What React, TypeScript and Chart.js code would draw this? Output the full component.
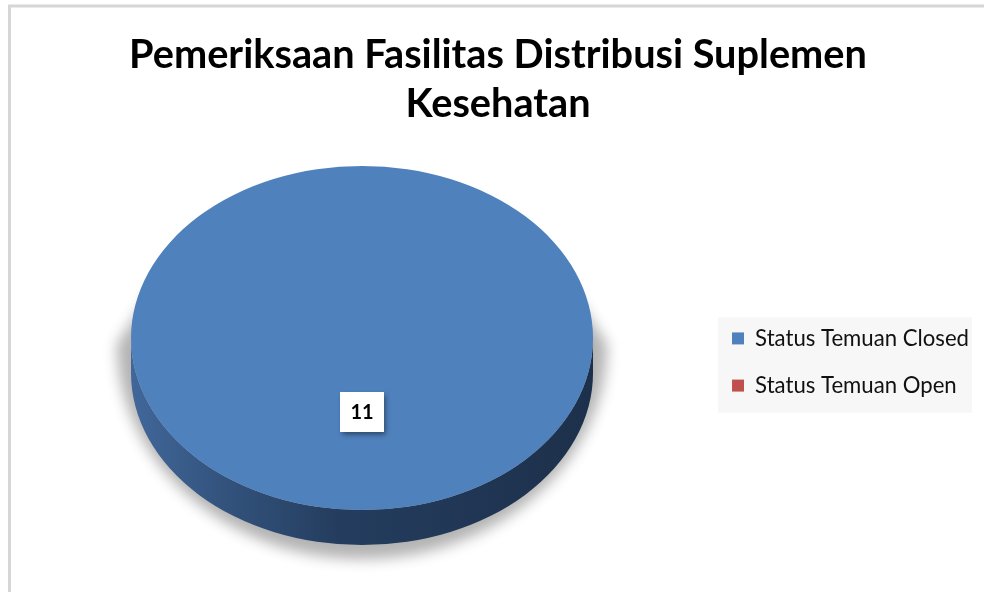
import React, { useEffect, useRef } from 'react';
import { Chart, registerables } from 'chart.js';

Chart.register(...registerables);

// ---- data ----
const TITLE_LINES = ['Pemeriksaan Fasilitas Distribusi Suplemen', 'Kesehatan'];
const CATEGORIES = ['Status Temuan Closed', 'Status Temuan Open'];
const VALUES = [11, 0];
const COLORS = ['#4f81bd', '#c0504d'];

// ---- style ----
const FONT = 'Lato';
const W = 984;
const H = 592;
const TILT = 0.745;
const DEPTH = 35;
const LIFT = 24;
const RADIUS = 231;
const LABEL_POS = 0.43;

function fitFont(text: string, weight: string, targetW: number) {
  const c = document.createElement('canvas').getContext('2d') as CanvasRenderingContext2D;
  c.font = `${weight} 100px ${FONT}`;
  return (100 * targetW) / c.measureText(text).width;
}

const pie3d = {
  id: 'pie3d',
  beforeDraw(chart: any) {
    const { ctx } = chart;
    ctx.save();
    ctx.strokeStyle = '#d6d6d6';
    ctx.lineWidth = 3;
    ctx.beginPath();
    ctx.moveTo(9.5, H + 10);
    ctx.lineTo(9.5, 6);
    ctx.lineTo(W + 10, 6);
    ctx.stroke();
    const lg = chart.legend;
    if (lg && lg.legendHitBoxes && lg.legendHitBoxes.length) {
      const hb = lg.legendHitBoxes;
      const first = hb[0];
      const last = hb[hb.length - 1];
      const l = first.left - 14;
      const t = first.top - 10;
      const r = lg.right - 7;
      const b = last.top + last.height + 16;
      ctx.fillStyle = '#f7f7f7';
      ctx.fillRect(l, t, r - l, b - t);
    }
    ctx.restore();
  },
  beforeDatasetsDraw(chart: any) {
    const { ctx } = chart;
    const meta = chart.getDatasetMeta(0);
    ctx.save();
    meta.data.forEach((arc: any) => {
      const p = arc.getProps(['x', 'y', 'startAngle', 'endAngle', 'outerRadius', 'circumference']);
      if (!(p.circumference > 0)) return;
      const cx = p.x;
      const cy = p.y - LIFT;
      const rx = p.outerRadius;
      const ry = p.outerRadius * TILT;
      // soft shadow beneath the pie (drawn off-screen, only its shadow lands)
      const OFF = 10000;
      ctx.save();
      ctx.shadowColor = 'rgba(0,0,0,0.30)';
      ctx.shadowBlur = 14;
      ctx.shadowOffsetX = OFF;
      ctx.fillStyle = '#000';
      ctx.beginPath();
      ctx.ellipse(cx - OFF, cy + 6, rx + 14, ry + DEPTH + 8, 0, 0, Math.PI);
      ctx.lineTo(cx - OFF - rx + 30, cy - 60);
      ctx.lineTo(cx - OFF + rx - 30, cy - 60);
      ctx.closePath();
      ctx.fill();
      ctx.restore();
      for (let k = -2; k <= 2; k++) {
        const a0 = Math.max(p.startAngle, 2 * Math.PI * k);
        const a1 = Math.min(p.endAngle, 2 * Math.PI * k + Math.PI);
        if (a1 <= a0) continue;
        ctx.beginPath();
        ctx.ellipse(cx, cy, rx, ry, 0, a0, a1);
        ctx.ellipse(cx, cy + DEPTH, rx, ry, 0, a1, a0, true);
        ctx.closePath();
        const g = ctx.createLinearGradient(cx - rx, 0, cx + rx, 0);
        g.addColorStop(0, '#41679a');
        g.addColorStop(0.2, '#33537d');
        g.addColorStop(0.45, '#243d5e');
        g.addColorStop(1, '#1d304b');
        ctx.fillStyle = g;
        ctx.fill();
      }
    });
    ctx.restore();
    const a = meta.data[0];
    ctx.save();
    ctx.translate(a.x, a.y - LIFT);
    ctx.scale(1, TILT);
    ctx.translate(-a.x, -a.y);
  },
  afterDatasetsDraw(chart: any) {
    const { ctx } = chart;
    ctx.restore();
    const meta = chart.getDatasetMeta(0);
    meta.data.forEach((arc: any, i: number) => {
      const v = VALUES[i];
      if (!v) return;
      const p = arc.getProps(['x', 'y', 'startAngle', 'endAngle', 'outerRadius']);
      const mid = (p.startAngle + p.endAngle) / 2;
      const r = p.outerRadius * LABEL_POS;
      const lx = p.x + r * Math.cos(mid);
      const ly = p.y - LIFT + TILT * r * Math.sin(mid);
      const bw = 44;
      const bh = 40;
      ctx.save();
      ctx.shadowColor = 'rgba(0,0,0,0.45)';
      ctx.shadowBlur = 5;
      ctx.shadowOffsetX = 2;
      ctx.shadowOffsetY = 3;
      ctx.fillStyle = '#ffffff';
      ctx.fillRect(lx - bw / 2, ly - bh / 2, bw, bh);
      ctx.restore();
      ctx.save();
      ctx.font = `bold 20px ${FONT}`;
      ctx.fillStyle = '#000';
      ctx.textAlign = 'center';
      ctx.textBaseline = 'middle';
      ctx.fillText(String(v), lx, ly + 1);
      ctx.restore();
    });
  },
};

export default function App() {
  const ref = useRef<HTMLCanvasElement | null>(null);
  useEffect(() => {
    if (!ref.current) return;
    const titleSize = fitFont(TITLE_LINES[0], 'bold', 738);
    const legendSize = fitFont(CATEGORIES[0], 'normal', 214);
    const chart = new Chart(ref.current, {
      type: 'pie',
      data: {
        labels: CATEGORIES,
        datasets: [
          {
            data: VALUES,
            backgroundColor: COLORS,
            borderWidth: 0,
            radius: RADIUS,
            clip: false,
          } as any,
        ],
      },
      options: {
        responsive: false,
        animation: false,
        devicePixelRatio: 1,
        events: [],
        layout: { padding: { left: 17, right: 5, top: 0, bottom: 2 } },
        plugins: {
          title: {
            display: true,
            text: TITLE_LINES,
            color: '#000',
            font: { family: FONT, size: titleSize, weight: 'bold', lineHeight: 49 / titleSize },
            padding: { top: 31, bottom: 5 },
          },
          legend: {
            position: 'right',
            fullSize: false,
            labels: {
              boxWidth: 12,
              boxHeight: 12,
              padding: 25,
              color: '#111',
              font: { family: FONT, size: legendSize },
            },
          },
          tooltip: { enabled: false },
        },
      } as any,
      plugins: [pie3d],
    });
    return () => chart.destroy();
  }, []);
  return (
    <div style={{ position: 'absolute', left: 0, top: 0, width: W, height: H, background: '#fff' }}>
      <canvas ref={ref} width={W} height={H} style={{ width: W, height: H, display: 'block' }} />
    </div>
  );
}
